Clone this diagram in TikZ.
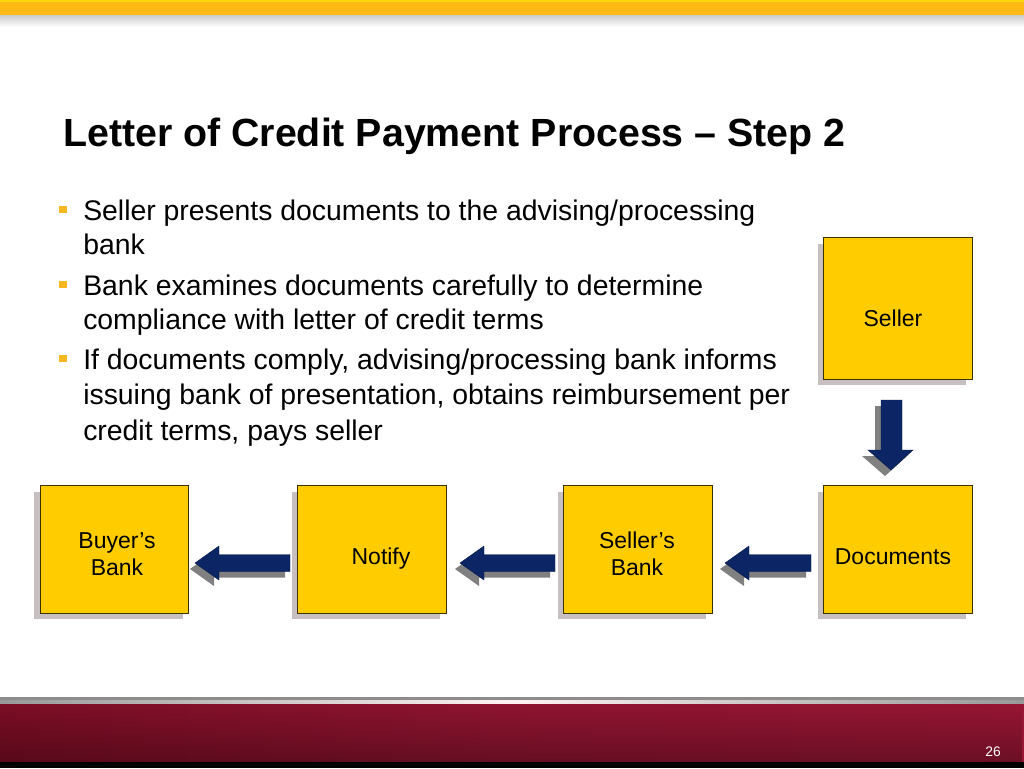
\documentclass[tikz,border=0pt]{standalone}
\usepackage{fontspec}
\setmainfont{Liberation Sans}
\usetikzlibrary{shadows,fadings}
\definecolor{topyellow}{HTML}{FFB914}
\definecolor{boxfill}{HTML}{FFCC00}
\definecolor{boxline}{HTML}{3A3000}
\definecolor{shadowc}{HTML}{C8C0C0}
\definecolor{navy}{HTML}{0B2565}
\definecolor{arrshadow}{HTML}{808080}
\definecolor{bulletc}{HTML}{F5B820}
\definecolor{footL}{HTML}{7E0E26}
\definecolor{footR}{HTML}{9A1635}
\newcommand{\blockL}[3]{%
  \fill[arrshadow] ({#1-5},{#3+6}) -- ({#1+19},{#3-11}) -- ({#1+19},{#3-2.5}) -- ({#2-5},{#3-2.5}) -- ({#2-5},{#3+14.5}) -- ({#1+19},{#3+14.5}) -- ({#1+19},{#3+23}) -- cycle;
  \filldraw[fill=navy,draw=navy!70!black,line width=0.3pt] (#1,#3) -- ({#1+24},{#3-17}) -- ({#1+24},{#3-8.5}) -- (#2,{#3-8.5}) -- (#2,{#3+8.5}) -- ({#1+24},{#3+8.5}) -- ({#1+24},{#3+17}) -- cycle;}
\begin{document}
\begin{tikzpicture}[x=0.01in,y=-0.01in,
  box/.style={draw=boxline,fill=boxfill,line width=0.7pt,inner sep=0pt,minimum width=1.48in,minimum height=1.27in,
    general shadow={fill=shadowc,shadow xshift=-0.06in,shadow yshift=-0.06in}},
  boxtext/.style={anchor=base,font=\fontsize{16.6}{18}\selectfont,text=black,inner sep=0pt},
  bul/.style={anchor=base west,font=\fontsize{20.5}{24}\selectfont,text=black,inner sep=0pt},
  bsq/.style={fill=bulletc,inner sep=0pt,minimum size=0.07in}]
\useasboundingbox (0,0) rectangle (1024,768);
\fill[white] (0,0) rectangle (1024,768);
% top bar
\shade[top color=black!22,bottom color=white] (0,14) rectangle (1024,27);
\fill[topyellow] (0,0) rectangle (1024,15);
\fill[topyellow!60!yellow] (0,0) rectangle (1024,2);
% title
\node[anchor=base west,inner sep=0pt,font=\fontsize{28.4}{32}\selectfont\bfseries] (title) at (63,146) {Letter of Credit Payment Process – Step 2};
% bullets
\node[bsq] (b1) at (63,209) {};
\node[bul] (l1) at (83,220) {Seller presents documents to the advising/processing};
\node[bul] (l2) at (83,254) {bank};
\node[bsq] (b2) at (63,284) {};
\node[bul] (l3) at (83,295) {Bank examines documents carefully to determine};
\node[bul] (l4) at (83,329) {compliance with letter of credit terms};
\node[bsq] (b3) at (63,358) {};
\node[bul] (l5) at (83,369) {If documents comply, advising/processing bank informs};
\node[bul] (l6) at (83,404) {issuing bank of presentation, obtains reimbursement per};
\node[bul] (l7) at (83,440) {credit terms, pays seller};
% boxes
\node[box,minimum height=1.41in] (seller) at (898,308.5) {};
\node[box] (buyerbank) at (114.5,549.5) {};
\node[box] (notify) at (372,549.5) {};
\node[box] (sellerbank) at (638,549.5) {};
\node[box] (documents) at (898,549.5) {};
\node[boxtext] (tseller) at (893,326) {Seller};
\node[boxtext] (tbb1) at (117,548) {Buyer’s};
\node[boxtext] (tbb2) at (117,575) {Bank};
\node[boxtext] (tnotify) at (381,564) {Notify};
\node[boxtext] (tsb1) at (637,548) {Seller’s};
\node[boxtext] (tsb2) at (637,575) {Bank};
\node[boxtext] (tdoc) at (893,564) {Documents};
% arrows
\blockL{195}{290}{563}
\blockL{460}{555}{563}
\blockL{725}{811}{563}
\fill[arrshadow] (875,406) -- (896,406) -- (896,456) -- (907,456) -- (885,476) -- (862,456) -- (875,456) -- cycle;
\filldraw[fill=navy,draw=navy!70!black,line width=0.3pt] (881,400) -- (902,400) -- (902,450) -- (913,450) -- (891,470) -- (868,450) -- (881,450) -- cycle;
% footer
\shade[left color=footL,right color=footR,middle color=footR!95!black] (0,700) rectangle (1024,762);
\fill[black,opacity=0.3,path fading=north] (0,700) rectangle (1024,762);
\fill[black!45] (0,697) rectangle (1024,700);
\shade[left color=black!40,right color=black!40,middle color=white!80!pink] (0,700) rectangle (1024,703);
\fill[black] (0,762) rectangle (1024,768);
\node[anchor=base,text=white,inner sep=0pt,font=\fontsize{10}{12}\selectfont] (pagenum) at (993,756) {26};
\end{tikzpicture}
\end{document}
